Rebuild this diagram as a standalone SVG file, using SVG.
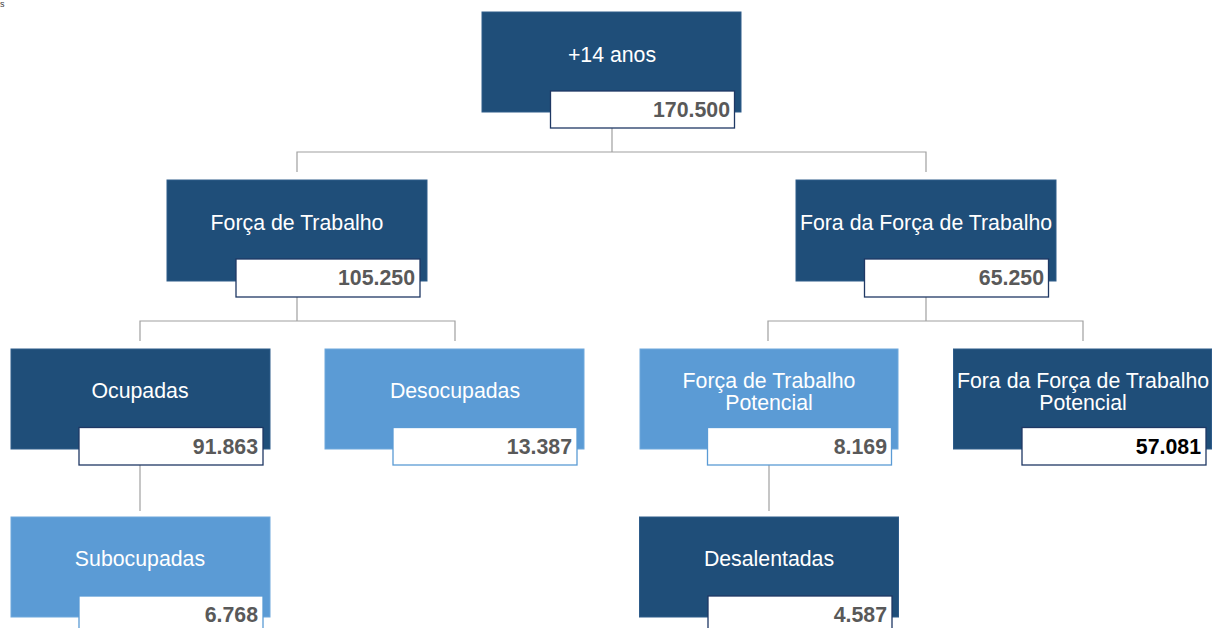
<svg xmlns="http://www.w3.org/2000/svg" width="1212" height="628" viewBox="0 0 1212 628">
<style>
.dark{fill:#1F4E79;stroke:#2E5C8A;stroke-width:1}
.light{fill:#5B9BD5;stroke:#6FA8DC;stroke-width:1}
.vd{fill:#FFFFFF;stroke:#1F3864;stroke-width:1.3}
.vl{fill:#FFFFFF;stroke:#5B9BD5;stroke-width:1.3}
.lbl{font-family:"Liberation Sans",Arial,sans-serif;font-size:21.3px;fill:#FFFFFF;text-anchor:middle}
.val{font-family:"Liberation Sans",Arial,sans-serif;font-size:21.3px;font-weight:bold;fill:#595959;text-anchor:end}
.conn{stroke:#A0A0A0;stroke-width:1.2;fill:none}
</style>
<rect width="1212" height="628" fill="#FFFFFF"/>
<text x="0" y="7" font-family="Liberation Sans,Arial,sans-serif" font-size="9" fill="#404040">s</text>
<g id="connectors">
<path class="conn" d="M612 128V152M297 172V152H926V172"/>
<path class="conn" d="M297 297V321M140 341V321H455V341"/>
<path class="conn" d="M926 297V321M768 341V321H1083V341"/>
<path class="conn" d="M140 465V511"/>
<path class="conn" d="M769 465V511"/>
</g>
<g id="n-root">
<rect class="dark" x="482" y="12" width="259" height="100"/>
<text class="lbl" x="612" y="62">+14 anos</text>
<rect class="vd" x="550.5" y="91" width="184" height="37"/>
<text class="val" x="730" y="117">170.500</text>
</g>
<g id="n-ft">
<rect class="dark" x="167" y="180" width="260" height="101"/>
<text class="lbl" x="297" y="230">Força de Trabalho</text>
<rect class="vd" x="236" y="259" width="184" height="38"/>
<text class="val" x="415" y="285">105.250</text>
</g>
<g id="n-fft">
<rect class="dark" x="796" y="180" width="260" height="101"/>
<text class="lbl" x="926" y="230">Fora da Força de Trabalho</text>
<rect class="vd" x="864.5" y="259" width="184" height="38"/>
<text class="val" x="1044" y="285">65.250</text>
</g>
<g id="n-ocup">
<rect class="dark" x="11" y="349" width="259" height="100"/>
<text class="lbl" x="140" y="398">Ocupadas</text>
<rect class="vd" x="79" y="427.5" width="184" height="37.5"/>
<text class="val" x="258" y="454">91.863</text>
</g>
<g id="n-desoc">
<rect class="light" x="325" y="349" width="259" height="100"/>
<text class="lbl" x="455" y="398">Desocupadas</text>
<rect class="vl" x="393" y="427.5" width="184" height="37.5"/>
<text class="val" x="572" y="454">13.387</text>
</g>
<g id="n-ftp">
<rect class="light" x="640" y="349" width="258" height="100"/>
<text class="lbl" x="769" y="388">Força de Trabalho</text>
<text class="lbl" x="769" y="410">Potencial</text>
<rect class="vl" x="707.5" y="427.5" width="184" height="37.5"/>
<text class="val" x="887" y="454">8.169</text>
</g>
<g id="n-fftp">
<rect class="dark" x="953.5" y="349" width="258" height="100"/>
<text class="lbl" x="1083" y="388">Fora da Força de Trabalho</text>
<text class="lbl" x="1083" y="410">Potencial</text>
<rect class="vd" x="1022" y="427.5" width="184" height="37.5"/>
<text class="val" x="1201" y="454" style="fill:#000000">57.081</text>
</g>
<g id="n-suboc">
<rect class="light" x="11" y="517" width="259" height="100"/>
<text class="lbl" x="140" y="566">Subocupadas</text>
<rect class="vl" x="79" y="596" width="184" height="40"/>
<text class="val" x="258" y="622">6.768</text>
</g>
<g id="n-desal">
<rect class="dark" x="639.5" y="517" width="259" height="100"/>
<text class="lbl" x="769" y="566">Desalentadas</text>
<rect class="vd" x="708" y="596" width="184" height="40"/>
<text class="val" x="887" y="622">4.587</text>
</g>
</svg>
